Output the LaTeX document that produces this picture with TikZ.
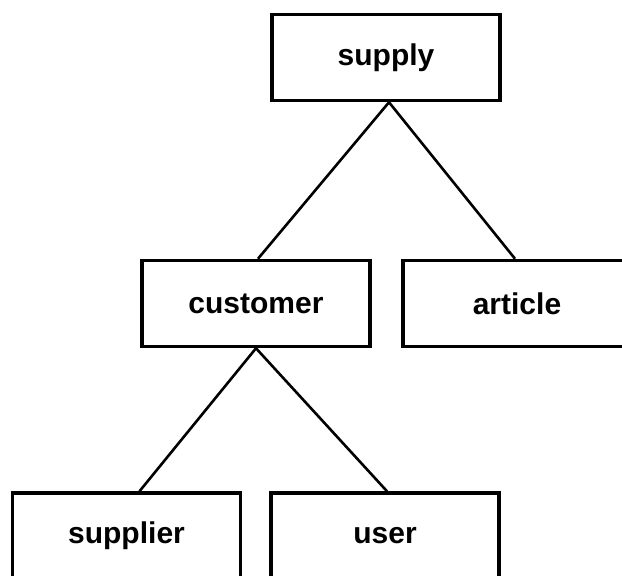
\documentclass[tikz,border=0pt]{standalone}
\usepackage{fontspec}
\setmainfont{Liberation Sans}

\begin{document}
\begin{tikzpicture}[x=1pt, y=-1pt]
  \tikzset{
    entity_node/.style={rectangle, draw, line width=3.5pt, fill=white, minimum width=228pt, minimum height=86pt, inner sep=0pt, font=\fontsize{30}{36}\selectfont\bfseries},
    link_line/.style={line width=2.6pt}
  }

  % Bounding box para la imagen
  \useasboundingbox (0,0) rectangle (622,576);

  % Nodos
  \node[entity_node] (supply) at (386,57.5) {supply};
  \node[entity_node] (customer) at (256,303.5) {customer};
  \node[entity_node] (article) at (517,303.5) {article};
  \node[entity_node] (supplier) at (126.5,536) {supplier};
  \node[entity_node] (user) at (385,536) {user};

  % Conexiones
  \draw[link_line] ([xshift=3pt]supply.south) -- ([xshift=2pt]customer.north);
  \draw[link_line] ([xshift=3pt]supply.south) -- ([xshift=-2pt]article.north);
  \draw[link_line] (customer.south) -- ([xshift=13pt]supplier.north);
  \draw[link_line] (customer.south) -- ([xshift=2pt]user.north);
\end{tikzpicture}
\end{document}
